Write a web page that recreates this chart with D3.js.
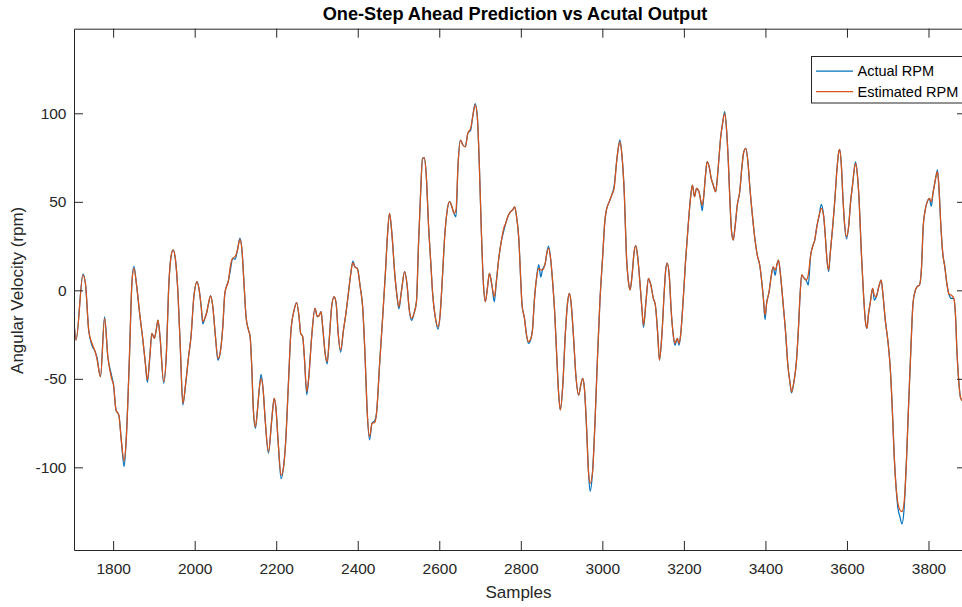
<!DOCTYPE html>
<html>
<head>
<meta charset="utf-8">
<script src="https://cdn.jsdelivr.net/npm/d3@7/dist/d3.min.js"></script>
<style>
  body { margin: 0; background: #fff; }
  svg { display: block; font-family: "Liberation Sans", Arial, Helvetica, sans-serif; }
</style>
</head>
<body>
<svg id="chart" width="962" height="607"></svg>
<script>
// Sample index of each recorded point
const samples = [
  1704,1709,1726,1732,1740,1748,1756,1760,1769,1779,1787,1796,1801,1807,1814,1820,1827,1832,1840,1846,
  1851,1857,1865,1873,1879,1884,1890,1895,1901,1905,1910,1915,1924,1931,1936,1942,1947,1953,1959,1965,
  1971,1978,1985,1991,1998,2006,2011,2016,2020,2025,2030,2034,2039,2044,2051,2057,
  2062,2069,2074,2083,2088,2093,2099,2105,2111,2116,2121,2126,2132,2136,2140,2144,2149,2154,2159,2163,
  2168,2173,2181,2189,2195,2199,2205,2212,2217,2223,2230,2236,2244,2250,2256,2260,2265,2269,2275,2280,
  2287,2295,2301,2306,2310,2314,2320,2325,2330,2336,2342,2347,2352,2358,2365,2371,2377,2383,2388,2393,
  2399,2406,2412,2418,2423,
  2429,2435,2442,2446,2454,2462,2468,2473,2478,2484,2491,2496,2501,2507,2515,2521,2526,2532,2538,2544,
  2549,2554,2559,2563,2568,2574,2579,2584,2590,2597,2602,2608,2613,2619,2625,2631,2636,2641,2646,2652,
  2658,2664,2670,2677,2682,2688,2693,2698,2703,2708,2713,2718,2723,2729,2735,2740,2746,2752,2758,2763,
  2768,2775,2780,2785,2789,
  2795,2800,2803,2809,2814,2819,2825,2829,2833,2839,2844,2849,2853,2860,2863,2868,2873,2878,2883,2888,
  2893,2897,2903,2909,2915,2919,2923,2929,2935,2942,2947,2952,2956,2961,2966,2970,2976,2982,2988,2994,
  3001,3006,3010,3017,3023,3029,3035,3039,3043,3048,3054,3059,3064,3068,3073,3078,3082,3087,3092,3097,
  3101,3107,3113,3119,3125,3130,3136,3140,3146,3152,3155,
  3159,3164,3169,3174,3178,3184,3188,3192,3198,3204,3210,3217,3221,3226,3231,3237,3241,3245,3249,3253,
  3257,3262,3267,3272,3278,3282,3286,3290,3295,3300,3305,3309,3313,3317,3321,3326,3331,3337,3342,3347,
  3352,3357,3362,3368,3374,3380,3386,3391,3395,3399,3403,3409,3414,3419,3424,3428,3432,3437,3443,3450,
  3455,3460,3464,3470,3476,3481,3485,3489,3495,3500,3505,3511,3517,
  3521,3526,3532,3537,3543,3547,3551,3555,3559,3565,3570,3575,3580,3582,3586,3590,3594,3599,3604,3609,
  3614,3618,3621,3626,3630,3635,3640,3645,3649,3653,3657,3663,3667,3672,3678,3684,3688,3694,3701,3706,
  3711,3716,3721,3725,3730,3735,3740,3746,3751,3757,3762,3768,3772,3778,3783,3787,3792,3797,3802,3807,
  3811,3815,3819,3822,3826,3830,3835,3840,3845,3850,3856,3862,3866,3870,3874,3879,3892
];

// Measured angular velocity (rpm)
const actualRpm = [
  -17.7,-28.1,9.2,3.9,-22.4,-31,-34.7,-37.5,-48.8,-15,-37.5,-48,-53.5,-67.6,-70.5,-84.6,-99.5,-84.6,-37.5,3.9,
  13.5,3.9,-13,-28.1,-41.2,-52,-37.5,-24.3,-27.1,-23.4,-16.8,-26.2,-52.5,-33.7,0.2,19,22.8,17.1,-1.7,-33.7,
  -64.8,-52.5,-37.5,-26.2,-3.6,4.9,0.2,-9.3,-19,-15.8,-12.1,-7.3,-3.2,-8.3,-26.2,-39.5,
  -36,-20.6,-1.7,5.8,12,18.1,17.5,22.8,29.5,22.8,3.9,-14.9,-22.4,-26.2,-43.2,-67.6,-78,-67.6,-54.5,-47.5,
  -56.3,-73.3,-92,-73.3,-61,-65.8,-86.4,-106.5,-101.5,-86.4,-52.5,-23.4,-11.1,-7,-14.9,-24.3,-26.2,-37.5,-59,-48.8,
  -26.2,-10.2,-14.9,-14,-12.1,-20.6,-35.6,-41.5,-28.1,-9.3,-3.6,-7.3,-24.3,-35,-22.4,-13,-1.7,9.6,16.5,13.3,
  12.4,2,-9.3,-37.5,-67.6,
  -84.5,-75.1,-73.5,-69.5,-40.3,-12.1,10.5,31.3,43.5,31.3,8.7,-2.7,-10.5,-0.8,10.5,3,-10.2,-17,-13,-6.4,
  25.6,53.8,74.6,74.9,65.1,35,16.2,-2.7,-14.9,-22,-14,8.7,29.4,44.4,50.1,47.2,43.5,41.5,70.8,84.9,
  82.1,81.1,88.7,90.5,98.1,105.5,99,72.7,35,4.9,-6.4,1.1,9.6,3,-6.5,4.9,18.1,27.5,33.5,37.9,
  41.6,44.4,45.4,47.2,42.5,
  29.4,4.9,-8.3,-15.8,-25.3,-30,-27.1,-21.5,-6.4,7.7,14.5,7.5,11.5,15.3,19.9,25,18.1,4.9,-12.1,-36.6,
  -59.2,-67.6,-53.5,-25.3,-6.4,-1.7,-6.4,-25.3,-47.9,-59.2,-53.5,-49.7,-55.4,-76.1,-102.5,-113.5,-102.5,-74.2,-38.4,-6.4,
  19.9,38.8,45.4,50.1,53.8,59,72.7,80.2,85,76.4,53.8,19.9,4.9,0.2,8.7,21.8,25.2,18.1,4.9,-10.2,
  -21,-6.4,6.8,3,-4.5,-8.3,-25.3,-39.4,-25.3,0,10.5,
  15.3,8.7,-12.1,-25.3,-31,-27.1,-31,-25.3,-6.4,16.2,35,53.8,59.5,52.9,57.6,55.7,51,45,53.8,65.1,
  72.7,69.8,63.3,59.5,55.7,63.3,74.6,85.9,94.4,101,89.6,72.7,50.1,33.1,28.4,36.9,48.2,55.7,68.9,78.3,
  80.2,72.7,57.6,42.5,29.4,19.9,14.3,4.9,-4.5,-16.5,-7.3,-0.8,7.7,13.3,8.5,14.3,17.1,8.7,-6.4,-25.3,
  -42.2,-51.6,-58,-51.6,-40.3,-21.5,-2.7,8.7,6.8,5.8,3,19.9,25.6,
  28.4,35.9,42.5,48.5,41.6,30.3,17.1,10.5,20.9,35.9,50.1,67,78.3,79.6,71.7,52.9,37.9,29,35.9,50.1,
  60.1,68.6,72.5,64.2,50.1,22.8,0.2,-16.8,-21.5,-13,-7.3,1.1,-5.5,-3.6,2,5.8,-1.7,-16.8,-29.9,-43.2,
  -65.8,-94,-112.8,-123,-128,-132,-124,-95.9,-65.8,-31.9,-7.3,0.2,2,3,13.3,35.9,45.4,50.1,51.9,47.5,
  54.8,60.1,65.1,68,56.6,37.9,20.9,13.3,3.9,-2.1,-4.5,-4.5,-13,-35.6,-50.7,-61,-64
];

// One-step ahead model prediction (rpm)
const estimatedRpm = [
  -17.7,-28.1,8.6,3.9,-22.4,-29.9,-34.7,-38.5,-48.8,-15.8,-37.5,-49.7,-53.5,-67.6,-70.5,-84.6,-96.5,-84.6,-37.5,3.9,
  12.4,3.9,-13,-28.1,-41.2,-50.7,-37.5,-24.3,-27.1,-23.4,-16.8,-26.2,-51.6,-33.7,0.2,19,22.8,17.1,-1.7,-33.7,
  -63.8,-52.5,-37.5,-26.2,-3.6,4.9,0.2,-9.3,-17.7,-15.8,-12.1,-7.3,-3.2,-8.3,-26.2,-38.5,
  -36,-20.6,-1.7,5.8,14.3,18.1,19,22.8,28.8,22.8,3.9,-14.9,-22.4,-26.2,-43.2,-67.6,-77.1,-67.6,-54.5,-49.7,
  -56.3,-73.3,-91.2,-73.3,-61,-65.8,-86.4,-104.4,-101.5,-86.4,-52.5,-23.4,-11.1,-7,-14.9,-24.3,-26.2,-37.5,-57.3,-48.8,
  -26.2,-10.2,-14.9,-14,-12.1,-20.6,-35.6,-40.3,-28.1,-9.3,-3.6,-7.3,-24.3,-33.7,-22.4,-13,-1.7,9.6,15.6,13.3,
  12.4,2,-9.3,-37.5,-67.6,
  -82.7,-75.1,-74.6,-69.5,-40.3,-12.1,10.5,31.3,43.5,31.3,8.7,-2.7,-9.3,-0.8,10.5,3,-10.2,-15.8,-13,-6.4,
  25.6,53.8,74.6,74.9,65.1,35,16.2,-2.7,-14.9,-20.6,-14,8.7,29.4,44.4,50.1,47.2,43.5,45.4,70.8,84.9,
  82.1,81.1,88.7,91.5,98.1,104.7,99,72.7,35,4.9,-6.4,1.1,9.6,3,-3.6,4.9,18.1,27.5,35,37.9,
  41.6,44.4,45.4,47.2,42.5,
  29.4,4.9,-8.3,-15.8,-25.3,-29,-27.1,-21.5,-6.4,7.7,12.4,11.5,11.5,15.3,19.9,23.7,18.1,4.9,-12.1,-36.6,
  -59.2,-67.6,-53.5,-25.3,-6.4,-1.7,-6.4,-25.3,-47.9,-59.2,-53.5,-49.7,-55.4,-76.1,-102.5,-109,-102.5,-74.2,-38.4,-6.4,
  19.9,38.8,45.4,50.1,53.8,57.6,72.7,80.2,84,76.4,53.8,19.9,4.9,0.2,8.7,21.8,25.2,18.1,4.9,-10.2,
  -19.6,-6.4,6.8,3,-4.5,-8.3,-25.3,-39.4,-25.3,0,10.5,
  15.3,8.7,-12.1,-25.3,-29.9,-27.1,-29.9,-25.3,-6.4,16.2,35,53.8,59.5,52.9,57.6,55.7,51,48.2,53.8,65.1,
  72.7,69.8,63.3,59.5,55.7,63.3,74.6,85.9,94.4,100,89.6,72.7,50.1,33.1,28.4,36.9,48.2,55.7,68.9,78.3,
  80.2,72.7,57.6,42.5,29.4,19.9,14.3,4.9,-4.5,-14,-7.3,-0.8,7.7,13.3,11.5,14.3,17.1,8.7,-6.4,-25.3,
  -42.2,-51.6,-57.3,-51.6,-40.3,-21.5,-2.7,8.7,6.8,5.8,8.7,19.9,25.6,
  28.4,35.9,42.5,46.3,41.6,30.3,17.1,11.5,20.9,35.9,50.1,67,78.3,79.6,71.7,52.9,37.9,30.3,35.9,50.1,
  60.1,68.6,71.7,64.2,50.1,22.8,0.2,-16.8,-21.5,-13,-7.3,1.1,-2.7,-3.6,2,5.8,-1.7,-16.8,-29.9,-43.2,
  -65.8,-94,-112.8,-120.3,-124.1,-125,-120.3,-95.9,-65.8,-31.9,-7.3,0.2,2,3,13.3,35.9,45.4,50.1,51.9,50.1,
  54.8,60.1,65.1,67,56.6,37.9,20.9,13.3,3.9,-2.1,-2.7,-4.5,-13,-35.6,-50.7,-61,-64
];

const xTicks = [1800, 2000, 2200, 2400, 2600, 2800, 3000, 3200, 3400, 3600, 3800];
const yTicks = [-100, -50, 0, 50, 100];
const xDomain = [1704, 3892];
const yDomain = [-146.7, 147.8];
const seriesNames = ["Actual RPM", "Estimated RPM"];

const titleText = "One-Step Ahead Prediction vs Acutal Output";
const xLabelText = "Samples";
const yLabelText = "Angular Velocity (rpm)";

// ---- layout / styling ----
const colors = ["#0072BD", "#D95319"];
const axisColor = "#262626";
const plot = { left: 74, right: 966, top: 28.7, bottom: 550 };
const tickLen = 9;
const plainNumber = d => String(d);   // ASCII hyphen for negatives

const svg = d3.select("#chart");

const x = d3.scaleLinear().domain(xDomain).range([plot.left, plot.right]);
const y = d3.scaleLinear().domain(yDomain).range([plot.bottom, plot.top]);

// plot background
svg.append("rect")
  .attr("x", plot.left).attr("y", plot.top)
  .attr("width", plot.right - plot.left).attr("height", plot.bottom - plot.top)
  .attr("fill", "#fff");

svg.append("clipPath").attr("id", "plotClip")
  .append("rect")
  .attr("x", plot.left).attr("y", plot.top)
  .attr("width", plot.right - plot.left).attr("height", plot.bottom - plot.top);

// series
const series = [actualRpm, estimatedRpm];
const line = d3.line()
  .x((d, i) => x(samples[i]))
  .y(d => y(d))
  .curve(d3.curveMonotoneX);

const lines = svg.append("g").attr("clip-path", "url(#plotClip)");
series.forEach((vals, k) => {
  lines.append("path")
    .datum(vals)
    .attr("fill", "none")
    .attr("stroke", colors[k])
    .attr("stroke-width", 1.25)
    .attr("stroke-linejoin", "round")
    .attr("d", line);
});

// axes (ticks point inward, box on all sides)
function styleAxis(g) {
  g.selectAll("path.domain").attr("stroke", axisColor).attr("stroke-width", 1);
  g.selectAll(".tick line").attr("stroke", axisColor).attr("stroke-width", 1);
  g.selectAll(".tick text")
    .attr("fill", axisColor)
    .style("font-size", "15.5px")
    .style("font-family", "'Liberation Sans', Arial, Helvetica, sans-serif");
}

svg.append("g")
  .attr("transform", `translate(0,${plot.bottom})`)
  .call(d3.axisBottom(x).tickValues(xTicks).tickFormat(plainNumber)
    .tickSizeInner(-tickLen).tickSizeOuter(0).tickPadding(13))
  .call(styleAxis);

svg.append("g")
  .attr("transform", `translate(0,${plot.top})`)
  .call(d3.axisTop(x).tickValues(xTicks).tickFormat("")
    .tickSizeInner(-tickLen).tickSizeOuter(0))
  .call(styleAxis);

svg.append("g")
  .attr("transform", `translate(${plot.left},0)`)
  .call(d3.axisLeft(y).tickValues(yTicks).tickFormat(plainNumber)
    .tickSizeInner(-tickLen).tickSizeOuter(0).tickPadding(7.5))
  .call(styleAxis);

svg.append("g")
  .attr("transform", `translate(${plot.right},0)`)
  .call(d3.axisRight(y).tickValues(yTicks).tickFormat("")
    .tickSizeInner(-tickLen).tickSizeOuter(0))
  .call(styleAxis);

// title and axis labels
svg.append("text")
  .attr("x", 515).attr("y", 20)
  .attr("text-anchor", "middle")
  .attr("fill", "#000")
  .style("font-size", "18.2px")
  .style("font-weight", "bold")
  .text(titleText);

svg.append("text")
  .attr("x", 518.5).attr("y", 597.5)
  .attr("text-anchor", "middle")
  .attr("fill", axisColor)
  .style("font-size", "17px")
  .text(xLabelText);

svg.append("text")
  .attr("transform", `translate(23,${(plot.top + plot.bottom) / 2 + 1}) rotate(-90)`)
  .attr("text-anchor", "middle")
  .attr("fill", axisColor)
  .style("font-size", "17px")
  .text(yLabelText);

// legend
const legend = svg.append("g");
legend.append("rect")
  .attr("x", 811.5).attr("y", 56.5)
  .attr("width", 160).attr("height", 46.5)
  .attr("fill", "#fff")
  .attr("stroke", axisColor)
  .attr("stroke-width", 1);

seriesNames.forEach((name, k) => {
  const cy = 71 + k * 20.7;
  legend.append("line")
    .attr("x1", 816).attr("x2", 853)
    .attr("y1", cy).attr("y2", cy)
    .attr("stroke", colors[k])
    .attr("stroke-width", 1.25);
  legend.append("text")
    .attr("x", 857.5).attr("y", cy + 5.2)
    .attr("fill", "#000")
    .style("font-size", "14.5px")
    .text(name);
});
</script>
</body>
</html>
